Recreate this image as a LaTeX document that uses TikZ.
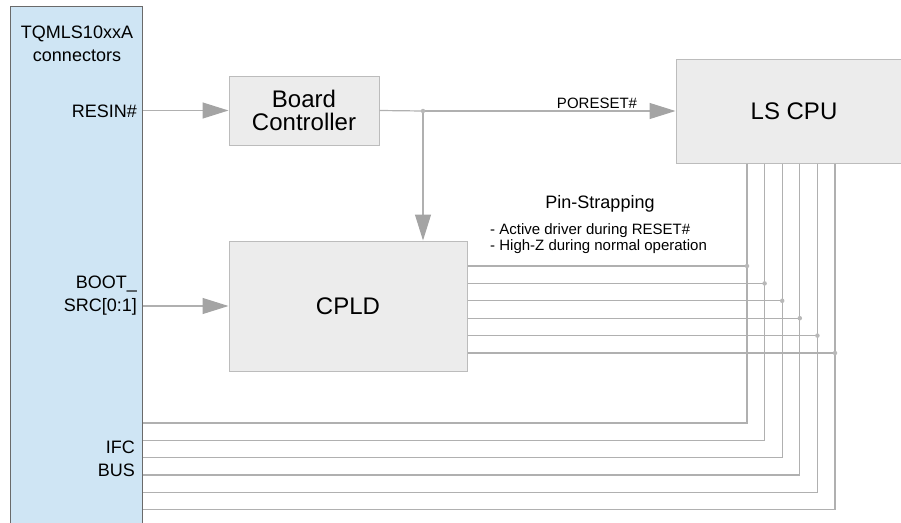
\documentclass[tikz,border=0pt]{standalone}
\usepackage{fontspec}
\setmainfont{Liberation Sans}
\usetikzlibrary{arrows.meta}
\definecolor{wire}{HTML}{B0B0B0}
\definecolor{tipgray}{HTML}{A4A4A4}
\definecolor{boxfill}{HTML}{ECECEC}
\definecolor{boxline}{HTML}{BCBCBC}
\definecolor{connfill}{HTML}{CFE5F4}
\definecolor{connline}{HTML}{6A6A6A}
\tikzset{
  block/.style={draw=boxline, fill=boxfill, line width=1pt, inner sep=0pt,
    font=\fontsize{24}{23}\selectfont, align=center},
  wireline/.style={draw=wire, line width=1.2pt},
  feed/.style={wireline, -{Triangle[length=26pt,width=16pt,fill=tipgray,color=tipgray]}},
  lbl/.style={inner sep=0pt, font=\fontsize{18}{23}\selectfont},
  junction/.style={circle, fill=wire!90, inner sep=0pt, minimum size=4.5pt},
}
\begin{document}
\begin{tikzpicture}[x=1pt, y=-1pt]
\useasboundingbox (0,0) rectangle (901,522);
\clip (0,0) rectangle (901,522);

% connector strip on the left
\node[draw=connline, fill=connfill, line width=1pt, anchor=north west,
      minimum width=132pt, minimum height=540pt, inner sep=0pt] (conn) at (10,6) {};
\node[lbl, align=center] (title) at (77,44) {TQMLS10xxA\\connectors};
\node[lbl, anchor=east] (resin) at (137,111) {RESIN\#};
\node[lbl, anchor=east, align=right] (boot) at (137,296) {BOOT\_\\SRC[0:1]};
\node[lbl, anchor=east, align=right] (ifc) at (135,459) {IFC\\BUS};

% main blocks
\node[block, minimum width=150pt, minimum height=69pt] (bc) at (304,110.5) {Board\\Controller};
\node[block, minimum width=236pt, minimum height=104pt] (cpu) at (794,111) {LS CPU};
\node[block, minimum width=238pt, minimum height=130pt] (cpld) at (348,306) {CPLD};

% reset path
\coordinate (split) at (423,111);
\draw[feed] (conn.east |- bc.west) -- (bc.west);
\draw[wireline] (bc.east) -- (split);
\draw[feed] (split) -- (cpu.west);
\node[inner sep=0pt, font=\fontsize{15}{17}\selectfont] (poreset) at (597,103) {PORESET\#};
\draw[feed] (split) -- (split |- cpld.north);
\node[junction] (splitdot) at (split) {};

% boot source
\draw[feed] (conn.east |- cpld.west) -- (cpld.west);

% pin-strapping description
\node[inner sep=0pt, font=\fontsize{18}{21}\selectfont] (pinstrap) at (600,204) {Pin-Strapping};
\node[inner sep=0pt, anchor=west, align=left, font=\fontsize{15}{15.7}\selectfont] (pinnote) at (490,238.5)
  {- Active driver during RESET\#\\- High-Z during normal operation};

% CPU bus: strap lines from the CPLD and bus lines to the connector
\foreach \i in {0,...,5} {
  \pgfmathsetmacro{\xv}{747+17.6*\i}
  \pgfmathsetmacro{\ys}{266+17.4*\i}
  \pgfmathsetmacro{\yb}{423+17.3*\i}
  \coordinate (strap\i) at (\xv,\ys);
  \coordinate (bend\i) at (\xv,\yb);
  \draw[wireline] (cpu.south -| bend\i) -- (bend\i) -- (conn.east |- bend\i);
  \draw[wireline] (cpld.east |- strap\i) -- (strap\i);
  \node[junction] at (strap\i) {};
}
\end{tikzpicture}
\end{document}
